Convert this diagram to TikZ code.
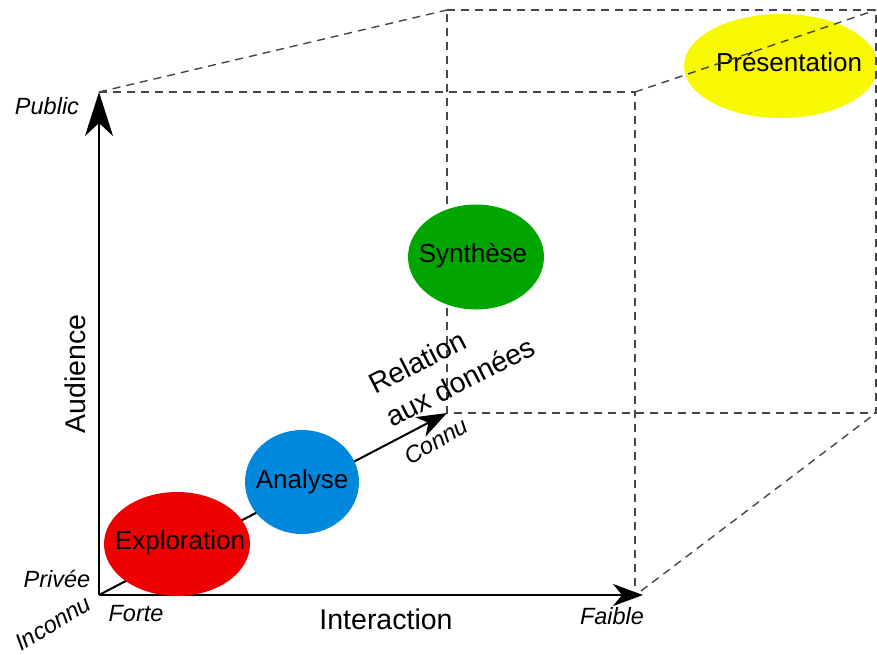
\documentclass[tikz,border=0pt]{standalone}
\usepackage{fontspec}
\setmainfont{Liberation Sans}
\usetikzlibrary{arrows.meta,shapes.geometric}
\definecolor{expred}{RGB}{238,0,0}
\definecolor{anablue}{RGB}{0,136,221}
\definecolor{syngreen}{RGB}{0,165,0}
\definecolor{presyellow}{RGB}{248,248,0}
\definecolor{dashgray}{RGB}{70,70,70}
\begin{document}
\begin{tikzpicture}[x=1pt,y=-1pt,
  axis/.style={line width=2.2pt, black},
  cubeline/.style={dash pattern=on 8pt off 6pt, line width=1.4pt, draw=dashgray},
  blob/.style={ellipse, inner sep=0pt, draw=none},
  blobtext/.style={inner sep=0pt, font=\fontsize{26}{30}\selectfont},
  lab/.style={font=\itshape\fontsize{23.5}{28}\selectfont, inner sep=0pt},
  axtitle/.style={font=\fontsize{28.5}{37}\selectfont, inner sep=0pt},
  bigtip/.style={-{Stealth[length=30pt,width=22pt,inset=9pt]}},
  tallt/.style={-{Stealth[length=44pt,width=28pt,inset=13pt]}}]
\useasboundingbox (0,0) rectangle (877,654);

% coordinates
\coordinate (O) at (99,595);
\coordinate (Ytip) at (99,92);
\coordinate (Xtip) at (643,595);
\coordinate (FTR) at (635,92);
\coordinate (FBR) at (635,592);
\coordinate (FBRd) at (641,591);
\coordinate (BTL) at (447,10);
\coordinate (BTR) at (876,10);
\coordinate (BBL) at (447,413);
\coordinate (BBR) at (876,413);

% presentation (under dashed lines)
\node[blob, fill=presyellow, minimum width=194pt, minimum height=104pt] (pres) at (781,66) {};
\node[blobtext] (prestext) at (789,62) {Présentation};

% cube dashed lines
\draw[cubeline] (Ytip) -- (FTR) -- (FBR);
\draw[cubeline] (Ytip) -- (BTL);
\draw[cubeline] (FTR) -- (BTR);
\draw[cubeline] (FBRd) -- (BBR);
\draw[cubeline] (BTL) -- (BTR) -- (BBR) -- (BBL) -- cycle;

% axes
\draw[axis, tallt] (O) -- (Ytip);
\draw[axis, bigtip] (O) -- (Xtip);
\draw[line width=2pt, bigtip] (O) -- (BBL);

% ellipses
\node[blob, fill=expred, minimum width=146pt, minimum height=104pt] (explo) at (177,544) {};
\node[blobtext] (explotext) at (180,543) {Exploration};
\node[blob, fill=anablue, minimum width=114pt, minimum height=104pt] (ana) at (302,482) {};
\node[blobtext] (anatext) at (302,482) {Analyse};
\node[blob, fill=syngreen, minimum width=136pt, minimum height=105pt] (syn) at (476,257) {};
\node[blobtext] (syntext) at (473,256) {Synthèse};

% labels
\node[lab] (public) at (47,106) {Public};
\node[lab] (privee) at (57,579) {Privée};
\node[lab, rotate=31] (inconnu) at (53,623) {Inconnu};
\node[lab] (forte) at (136,614) {Forte};
\node[lab] (faible) at (612,616) {Faible};
\node[lab, rotate=30] (connu) at (436,441) {Connu};
\node[axtitle, rotate=90] (audience) at (75,374) {Audience};
\node[axtitle] (interaction) at (386,619) {Interaction};
\node[axtitle, rotate=27, align=left] (relation) at (452,365) {Relation\\aux données};
\end{tikzpicture}
\end{document}
